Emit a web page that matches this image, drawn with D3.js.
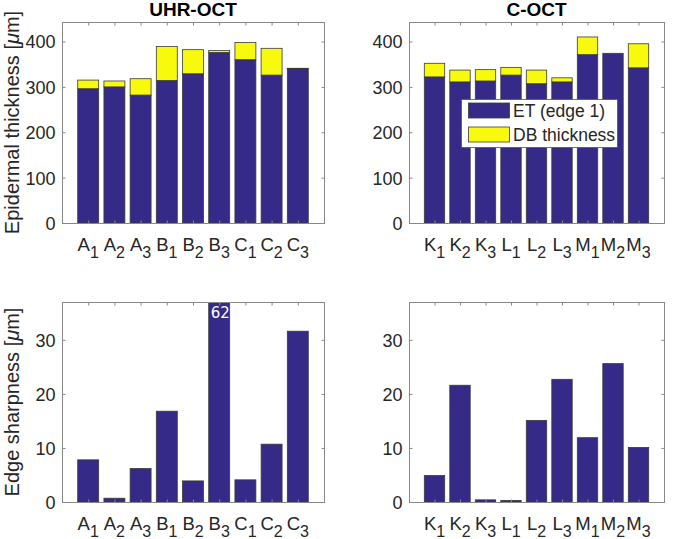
<!DOCTYPE html>
<html>
<head>
<meta charset="utf-8">
<script src="https://cdn.jsdelivr.net/npm/d3@7"></script>
<style>
  html, body { margin: 0; padding: 0; background: #fff; }
  svg { display: block; font-family: "Liberation Sans", Arial, Helvetica, sans-serif; }
</style>
</head>
<body>
<svg id="chart" width="673" height="539"></svg>
<script>
// ---- data ----
const uhrLetters = ["A","A","A","B","B","B","C","C","C"];
const uhrSubs    = ["1","2","3","1","2","3","1","2","3"];
const coctLetters = ["K","K","K","L","L","L","M","M","M"];
const coctSubs    = ["1","2","3","1","2","3","1","2","3"];

const uhrET = [296, 300, 282, 314, 329, 376, 360, 326, 340];
const uhrDB = [19, 13, 36, 75, 53, 4, 38, 59, 1];
const coctET = [322, 311, 313, 326, 307, 311, 371, 374, 342];
const coctDB = [30, 26, 25, 17, 30, 9, 39, 0, 53];

const uhrES  = [7.8, 0.7, 6.2, 16.8, 3.9, 62, 4.1, 10.7, 31.6];
const coctES = [4.9, 21.6, 0.4, 0.3, 15.1, 22.7, 11.9, 25.6, 10.1];

const thickTicks = [0, 100, 200, 300, 400];
const sharpTicks = [0, 10, 20, 30];
const titles = ["UHR-OCT", "C-OCT"];
const legendLabels = ["ET (edge 1)", "DB thickness"];

// ---- style ----
const BLUE = "#352a87", YELLOW = "#f7fa0c", EDGE = "#3a3a3a";
const AX = "#888", TXT = "#262626";
const svg = d3.select("#chart");

const panels = [
  {x0: 62, x1: 324, y0: 22, y1: 223, letters: uhrLetters, subs: uhrSubs, stack: [uhrET, uhrDB], ymax: 443, ticks: thickTicks, title: titles[0], ylabel: "Epidermal thickness"},
  {x0: 409, x1: 664, y0: 22, y1: 223, letters: coctLetters, subs: coctSubs, stack: [coctET, coctDB], ymax: 443, ticks: thickTicks, title: titles[1], legend: true},
  {x0: 62, x1: 324, y0: 302, y1: 502, letters: uhrLetters, subs: uhrSubs, single: uhrES, ymax: 37, ticks: sharpTicks, ylabel: "Edge sharpness"},
  {x0: 409, x1: 664, y0: 302, y1: 502, letters: coctLetters, subs: coctSubs, single: coctES, ymax: 37, ticks: sharpTicks}
];

panels.forEach((p, pi) => {
  const idx = d3.range(1, 10);
  const x = d3.scaleLinear().domain([0, 10]).range([p.x0, p.x1]);
  const y = d3.scaleLinear().domain([0, p.ymax]).range([p.y1, p.y0]);
  const bw = (x(0.8) - x(0));
  const g = svg.append("g");

  const clipId = "clip" + pi;
  svg.append("clipPath").attr("id", clipId).append("rect")
    .attr("x", p.x0).attr("y", p.y0).attr("width", p.x1 - p.x0).attr("height", p.y1 - p.y0);
  const bars = g.append("g").attr("clip-path", `url(#${clipId})`);

  if (p.stack) {
    const [et, db] = p.stack;
    bars.selectAll("rect.et").data(idx).enter().append("rect")
      .attr("x", i => x(i) - bw / 2).attr("width", bw)
      .attr("y", i => y(et[i - 1])).attr("height", i => y(0) - y(et[i - 1]))
      .attr("fill", BLUE).attr("stroke", EDGE).attr("stroke-width", 0.8);
    bars.selectAll("rect.db").data(idx.filter(i => db[i - 1] > 0)).enter().append("rect")
      .attr("x", i => x(i) - bw / 2).attr("width", bw)
      .attr("y", i => y(et[i - 1] + db[i - 1])).attr("height", i => y(et[i - 1]) - y(et[i - 1] + db[i - 1]))
      .attr("fill", YELLOW).attr("stroke", EDGE).attr("stroke-width", 0.8);
  } else {
    const v = p.single;
    bars.selectAll("rect").data(idx).enter().append("rect")
      .attr("x", i => x(i) - bw / 2).attr("width", bw)
      .attr("y", i => y(v[i - 1])).attr("height", i => y(0) - y(v[i - 1]))
      .attr("fill", BLUE).attr("stroke", EDGE).attr("stroke-width", 0.8);
    // value label for clipped bars
    idx.filter(i => v[i - 1] > p.ymax).forEach(i => {
      g.append("text").attr("x", x(i) + 1).attr("y", p.y0 + 16)
        .attr("text-anchor", "middle").attr("fill", "#fff")
        .style("font-family", "'DejaVu Sans', sans-serif").style("font-size", "15px")
        .text(String(v[i - 1]));
    });
  }

  // axes box
  g.append("rect").attr("x", p.x0 + 0.5).attr("y", p.y0 + 0.5)
    .attr("width", p.x1 - p.x0).attr("height", p.y1 - p.y0)
    .attr("fill", "none").attr("stroke", AX).attr("stroke-width", 1);

  // ticks: y left/right, x bottom/top (inside)
  const TL = 3;
  const yAxL = d3.axisLeft(y).tickValues(p.ticks).tickSize(-TL).tickPadding(10).tickFormat(d3.format("d"));
  const gyl = g.append("g").attr("transform", `translate(${p.x0 + 0.5},0)`).call(yAxL);
  gyl.select(".domain").remove();
  gyl.selectAll("line").attr("stroke", AX);
  gyl.selectAll("text").attr("fill", TXT).style("font-size", "18px").attr("dy", "0.36em").attr("x", -7);

  const yAxR = d3.axisRight(y).tickValues(p.ticks).tickSize(-TL).tickFormat("");
  const gyr = g.append("g").attr("transform", `translate(${p.x1 + 0.5},0)`).call(yAxR);
  gyr.select(".domain").remove();
  gyr.selectAll("line").attr("stroke", AX);

  const xAxB = d3.axisBottom(x).tickValues(idx).tickSize(-TL).tickFormat("");
  const gxb = g.append("g").attr("transform", `translate(0,${p.y1 + 0.5})`).call(xAxB);
  gxb.select(".domain").remove();
  gxb.selectAll("line").attr("stroke", AX);

  const xAxT = d3.axisTop(x).tickValues(idx).tickSize(-TL).tickFormat("");
  const gxt = g.append("g").attr("transform", `translate(0,${p.y0 + 0.5})`).call(xAxT);
  gxt.select(".domain").remove();
  gxt.selectAll("line").attr("stroke", AX);

  // x tick labels with subscripts
  idx.forEach(i => {
    const t = g.append("text").attr("x", x(i)).attr("y", p.y1 + 27.5)
      .attr("text-anchor", "middle").attr("fill", TXT).style("font-size", "18.5px");
    t.append("tspan").text(p.letters[i - 1]);
    t.append("tspan").attr("dy", 7.5).style("font-size", "16px").text(p.subs[i - 1]);
  });

  // title
  if (p.title) {
    g.append("text").attr("x", (p.x0 + p.x1) / 2).attr("y", 16)
      .attr("text-anchor", "middle").attr("fill", "#000")
      .style("font-size", "19px").style("font-weight", "bold").text(p.title);
  }

  // y label
  if (p.ylabel) {
    const cy = (p.y0 + p.y1) / 2;
    const t = g.append("text").attr("transform", `translate(18.5,${cy}) rotate(-90)`)
      .attr("text-anchor", "middle").attr("fill", TXT).style("font-size", "20px");
    t.append("tspan").text(p.ylabel + " [");
    t.append("tspan").style("font-style", "italic").text("\u03BC");
    t.append("tspan").text("m]");
  }

  // legend
  if (p.legend) {
    const lg = g.append("g");
    lg.append("rect").attr("x", 461.5).attr("y", 99.5).attr("width", 156).attr("height", 48)
      .attr("fill", "#fff").attr("stroke", "#555").attr("stroke-width", 0.8);
    const cols = [BLUE, YELLOW];
    legendLabels.forEach((lab, k) => {
      const yy = 103 + k * 24;
      lg.append("rect").attr("x", 468.5).attr("y", yy).attr("width", 41).attr("height", 15)
        .attr("fill", cols[k]).attr("stroke", EDGE).attr("stroke-width", 0.8);
      lg.append("text").attr("x", 513).attr("y", yy + 14).attr("fill", TXT)
        .style("font-size", "17.5px").text(lab);
    });
  }
});
</script>
</body>
</html>
